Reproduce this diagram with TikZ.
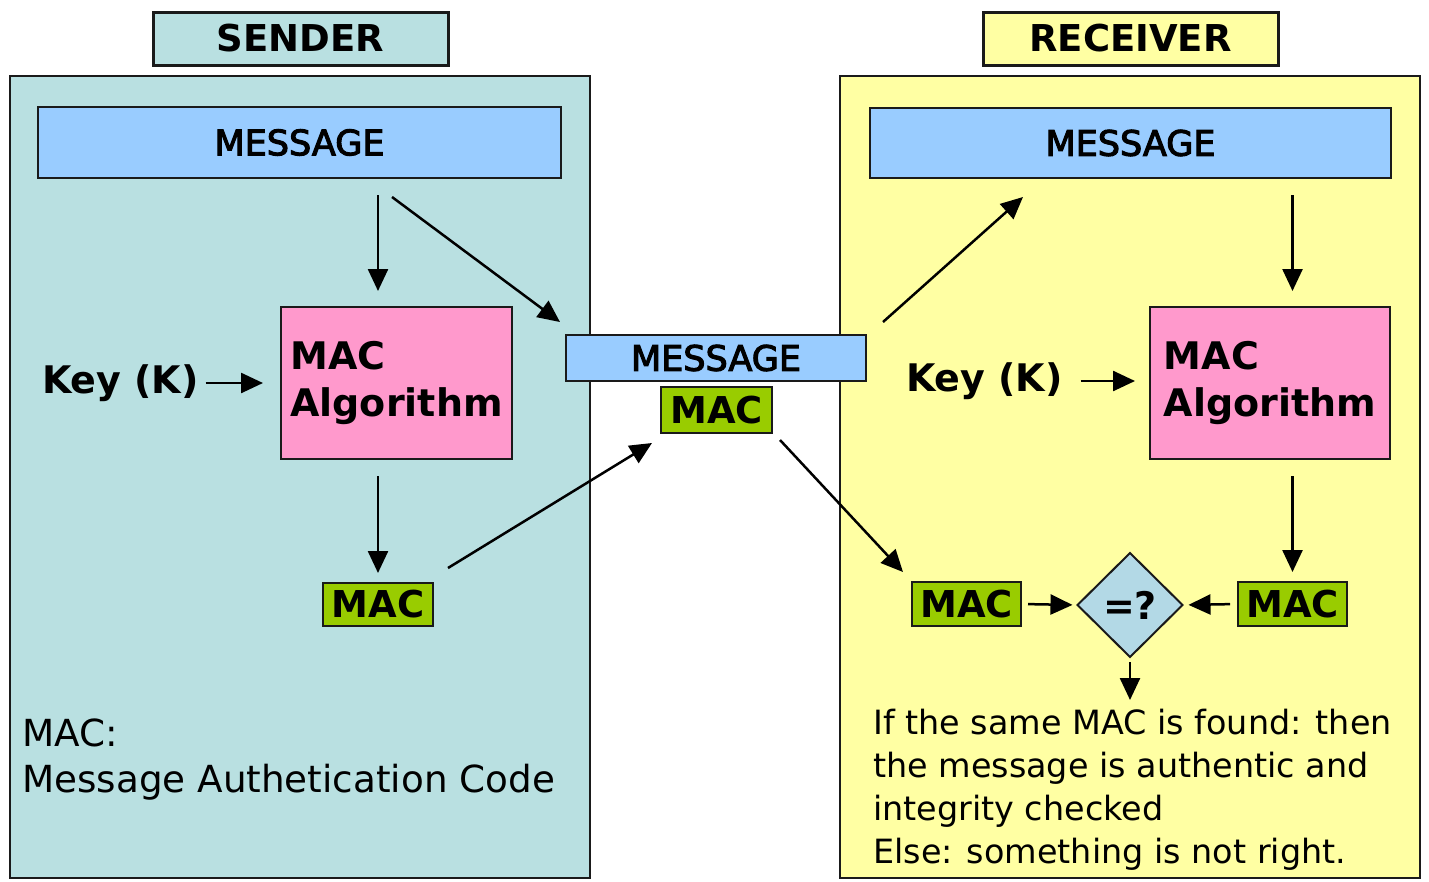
\documentclass[tikz,border=0pt]{standalone}
\usepackage{fontspec}
\setmainfont{DejaVu Sans}
\newfontface\medface[FakeBold=3]{DejaVu Sans}
\usetikzlibrary{arrows.meta,shapes.geometric,calc}
\definecolor{sendbg}{HTML}{B9E0E1}
\definecolor{recvbg}{HTML}{FFFFA3}
\definecolor{msgblue}{HTML}{99CCFF}
\definecolor{algpink}{HTML}{FF99CC}
\definecolor{macgreen}{HTML}{99CC00}
\definecolor{diamblue}{HTML}{B3D9E6}
\definecolor{edgecol}{HTML}{1A1A1A}
\newcommand{\fsz}[2]{\fontsize{#1}{#2}\selectfont}
\begin{document}
\begin{tikzpicture}[x=1pt,y=-1pt,
  box/.style={draw=edgecol,line width=2pt,inner sep=0pt,outer sep=0pt,rectangle},
  panel/.style={box},
  titlebox/.style={box,line width=3pt,font=\fsz{37}{37}\bfseries},
  msgbox/.style={box,fill=msgblue,font=\medface\fsz{35}{35}},
  algbox/.style={box,fill=algpink,align=left,font=\fsz{38}{47}\bfseries},
  macbox/.style={box,fill=macgreen,font=\fsz{37}{37}\bfseries},
  keytext/.style={inner sep=0pt,outer sep=0pt,font=\fsz{38}{38}\bfseries},
  arr/.style={line width=2.5pt,draw=black,-{Triangle[length=22pt,width=20pt]}}
]
\useasboundingbox (0,0) rectangle (1429,881);
\fill[white] (0,0) rectangle (1429,881);

% panels
\node[panel,fill=sendbg,minimum width=580pt,minimum height=802pt] (sendP) at (300,477) {};
\node[panel,fill=recvbg,minimum width=580pt,minimum height=802pt] (recvP) at (1130,477) {};

% titles
\node[titlebox,fill=sendbg,minimum width=295pt,minimum height=53pt] (sendT) at (300.5,38.5) {SENDER};
\node[titlebox,fill=recvbg,minimum width=295pt,minimum height=53pt] (recvT) at (1130.5,38.5) {RECEIVER};

% sender side
\node[msgbox,minimum width=523pt,minimum height=71pt] (msgS) at (299.5,142.5) {MESSAGE};
\node[algbox,minimum width=231pt,minimum height=152pt] (algS) at (396.5,383) {MAC\\Algorithm};
\node[macbox,minimum width=110pt,minimum height=43pt] (macS) at (378,604.5) {MAC};
\node[keytext,anchor=west] (keyS) at (42,383) {Key (K)};

% middle
\node[msgbox,minimum width=300pt,minimum height=46pt] (msgM) at (716,358) {MESSAGE};
\node[macbox,minimum width=111pt,minimum height=46pt] (macM) at (716.5,410) {MAC};

% receiver side
\node[msgbox,minimum width=521pt,minimum height=70pt] (msgR) at (1130.5,143) {MESSAGE};
\node[algbox,minimum width=240pt,minimum height=152pt] (algR) at (1270,383) {MAC\\Algorithm};
\node[keytext,anchor=west] (keyR) at (906,381) {Key (K)};
\node[macbox,minimum width=109pt,minimum height=44pt] (macRL) at (966.5,604) {MAC};
\node[macbox,minimum width=109pt,minimum height=44pt] (macRR) at (1292.5,604) {MAC};
\node[diamond,draw=edgecol,line width=2pt,fill=diamblue,aspect=1,minimum width=105pt,minimum height=104pt,inner sep=0pt,outer sep=0pt,font=\fsz{38}{38}\bfseries] (diam) at (1130,605) {=?};

% texts
\node[anchor=west,align=left,inner sep=0pt,font=\fsz{37.3}{46}] (defn) at (22,760) {MAC:\\Message Authetication Code};
\node[anchor=west,align=left,inner sep=0pt,font=\fsz{33.4}{43}] (result) at (873,790) {If the same MAC is found: then\\the message is authentic and\\integrity checked\\Else: something is not right.};

% coordinates for diagonal connectors
\coordinate (d1s) at (392,197);
\coordinate (d1e) at (560,322);
\coordinate (d2s) at (448,568);
\coordinate (d2e) at (652,443);
\coordinate (d3s) at (780,440);
\coordinate (d4s) at (883,322);
\coordinate (d4e) at (1023,197);
\coordinate (d3e) at (903,572);

% sender arrows
\draw[arr] ($(msgS.south -| macS)+(0,17)$) -- ($(algS.north -| macS)+(0,-16)$);
\draw[arr] ($(algS.south -| macS)+(0,17)$) -- ($(macS.north)+(0,-10)$);
\draw[arr,shorten <=7pt,shorten >=18pt] (keyS.east) -- (keyS.east -| algS.west);
\draw[arr] (d1s) -- (d1e);
\draw[arr] (d2s) -- (d2e);

% receiver arrows
\draw[arr] (d3s) -- (d3e);
\draw[arr] (d4s) -- (d4e);
\draw[arr] ($(msgR.south -| macRR)+(0,17)$) -- ($(algR.north -| macRR)+(0,-16)$);
\draw[arr] ($(algR.south -| macRR)+(0,17)$) -- ($(macRR.north)+(0,-10)$);
\draw[arr,shorten <=18pt,shorten >=15pt] (keyR.east) -- (keyR.east -| algR.west);
\draw[arr,shorten <=7pt,shorten >=5pt] (macRL.east) -- (diam.west);
\draw[arr,shorten <=8pt,shorten >=6pt] (macRR.west) -- (diam.east);
\draw[arr,shorten <=5pt] (diam.south) -- ++(0,43);
\end{tikzpicture}
\end{document}
